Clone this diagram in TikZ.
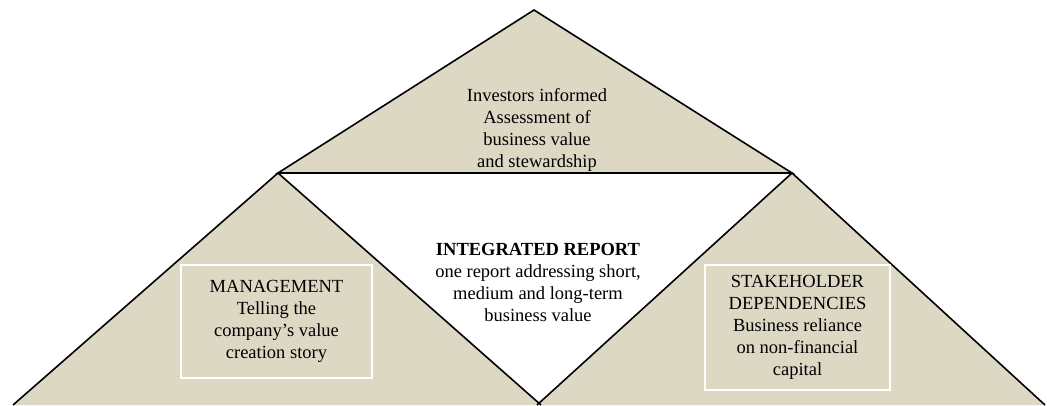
\documentclass[tikz,border=0pt]{standalone}
\usepackage{fontspec}
\setmainfont{Liberation Serif}
\definecolor{sand}{RGB}{221,216,196}

\begin{document}
\begin{tikzpicture}[x=1pt,y=1pt]

  \tikzset{side/.style={draw=black, line width=1.6pt, line join=miter}, }
  \tikzset{main text/.style={align=center, inner sep=0pt,
  		font=\fontsize{18.5}{22}\selectfont}, }
  \tikzset{frame box/.style={main text, draw=white, line width=1.2pt}, }
  \useasboundingbox (0,0) rectangle (1047,405);
    \coordinate (top) at (534,395);
    \coordinate (lefttip) at (278,232);
    \coordinate (righttip) at (792,232);
    \coordinate (lbase) at (13,0);
    \coordinate (lmid) at (541,0);
    \coordinate (rmid) at (537,0);
    \coordinate (rbase) at (1045,0);

    \fill[sand] (lefttip) -- (top) -- (righttip) -- cycle;
    \fill[sand] (lbase) -- (lefttip) -- (lmid) -- cycle;
    \fill[sand] (rmid) -- (righttip) -- (rbase) -- cycle;
    \draw[side] (lefttip) -- (top) -- (righttip) -- cycle;
    \draw[side] (lbase) -- (lefttip) -- (lmid);
    \draw[side] (rmid) -- (righttip) -- (rbase);

    \node[main text] (investors) at (537,275)
      {Investors informed\\Assessment of\\business value\\and stewardship};
    \node[main text] (report) at (538,123)
      {\textbf{INTEGRATED REPORT}\\one report addressing short,\\medium and long-term\\business value};
    \node[frame box, minimum width=191, minimum height=113] (management) at (276.5,83.5)
      {MANAGEMENT\\Telling the\\company’s value\\creation story};
    \node[frame box, minimum width=185, minimum height=125] (stakeholder) at (797.5,77.5)
      {STAKEHOLDER\\DEPENDENCIES\\Business reliance\\on non-financial\\capital};
%%
\end{tikzpicture}
\end{document}
